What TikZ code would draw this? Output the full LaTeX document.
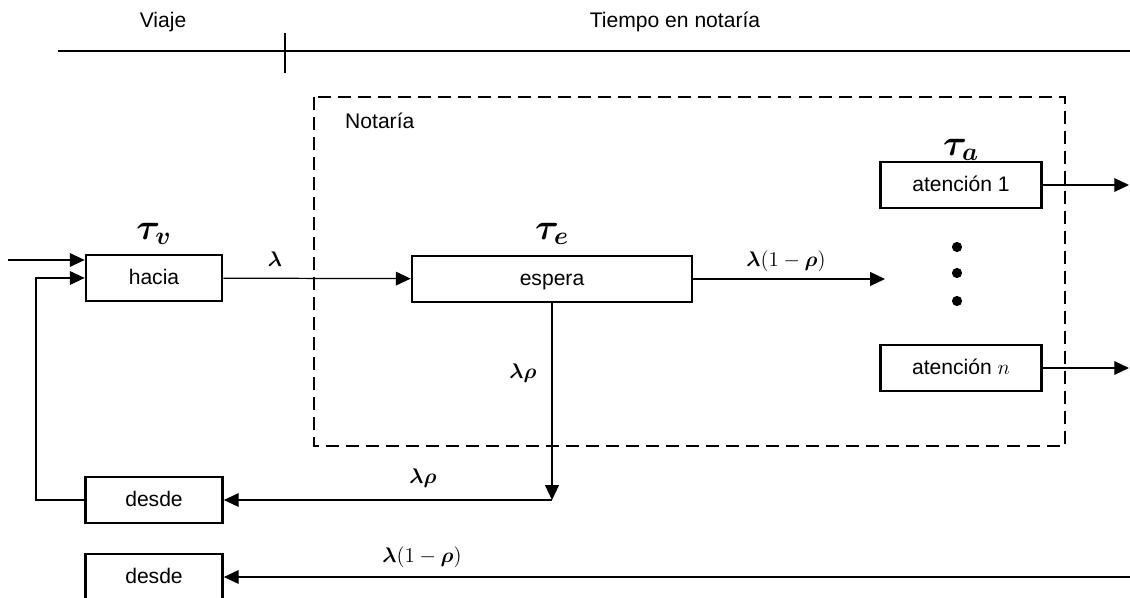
\documentclass[tikz,border=0pt]{standalone}
\usepackage{amsmath,bm}
\usepackage[no-math]{fontspec}
\setmainfont{Liberation Sans}
\usetikzlibrary{arrows.meta}

\begin{document}
\begin{tikzpicture}[
    x=0.02cm, y=-0.02cm,
    font=\fontsize{12}{14}\selectfont,
    caja/.style={draw,line width=1.6pt,inner sep=0pt,minimum height=0.92cm,
                 text height=1.6ex,text depth=0.3ex},
    flecha/.style={line width=0.7pt,-{Triangle[length=8.4pt,width=7.8pt]}},
    linea/.style={line width=0.7pt},
    borde/.style={line width=1.4pt,dash pattern=on 7.4pt off 4pt},
    mat/.style={font=\fontsize{13}{15}\selectfont},
    tau/.style={font=\fontsize{20}{22}\selectfont},
    punto/.style={circle,fill=black,inner sep=0pt,minimum size=5.8pt}]

  \useasboundingbox (0,0) rectangle (1130,598);

  % linea de tiempo
  \node (viaje)  at (163,22) {Viaje};
  \node (tiempo) at (675,22) {Tiempo en notaría};
  \coordinate (t0) at (58,51);
  \coordinate (t1) at (1130,51);
  \coordinate (m0) at (285,33);
  \coordinate (m1) at (285,73);
  \draw[linea] (t0) -- (t1);
  \draw[linea] (m0) -- (m1);

  % notaria
  \draw[borde] (314,97) rectangle (1065,446);
  \node[anchor=west] (notaria) at (339,121) {Notaría};

  \node[caja,minimum width=2.72cm] (hacia)  at (154,278) {hacia};
  \node[caja,minimum width=5.6cm]  (espera) at (552,279) {espera};
  \node[caja,minimum width=3.22cm] (aten1)  at (961,185) {atención 1};
  \node[caja,minimum width=3.22cm] (atenn)  at (961,368) {atención $n$};
  \node[caja,minimum width=2.74cm] (desde1) at (154,500) {desde};
  \node[caja,minimum width=2.74cm] (desde2) at (154,577) {desde};

  \node[tau] (tauv) at (154,234) {$\bm{\tau_v}$};
  \node[tau] (taue) at (552,234) {$\bm{\tau_e}$};
  \node[tau] (taua) at (961,150) {$\bm{\tau_a}$};

  \node[punto] (p1) at (957,247) {};
  \node[punto] (p2) at (957,273) {};
  \node[punto] (p3) at (957,301) {};

  \coordinate (entrada) at (8,260);
  \coordinate (reparto) at (885,279);
  \coordinate (rama)    at (552,500);
  \coordinate (sal1)    at (1129,185);
  \coordinate (saln)    at (1129,368);
  \coordinate (vuelta)  at (1130,577);

  \draw[flecha] (entrada) -- (entrada -| hacia.west);
  \draw[flecha] (desde1.west) -- ++(-48,0) |- (hacia.west);
  \draw[flecha] (hacia) -- (espera);
  \draw[flecha] (espera) -- (reparto);
  \draw[flecha] (espera) -- (rama);
  \draw[flecha] (rama) -- (desde1);
  \draw[flecha] (aten1) -- (sal1);
  \draw[flecha] (atenn) -- (saln);
  \draw[flecha] (vuelta) -- (desde2);

  \node[mat] (l1) at (275,259) {$\bm{\lambda}$};
  \node[mat] (l2) at (786,261) {$\bm{\lambda}(1-\bm{\rho})$};
  \node[mat] (l3) at (523,373) {$\bm{\lambda\rho}$};
  \node[mat] (l4) at (423,478) {$\bm{\lambda\rho}$};
  \node[mat] (l5) at (422,557) {$\bm{\lambda}(1-\bm{\rho})$};

\end{tikzpicture}
\end{document}
